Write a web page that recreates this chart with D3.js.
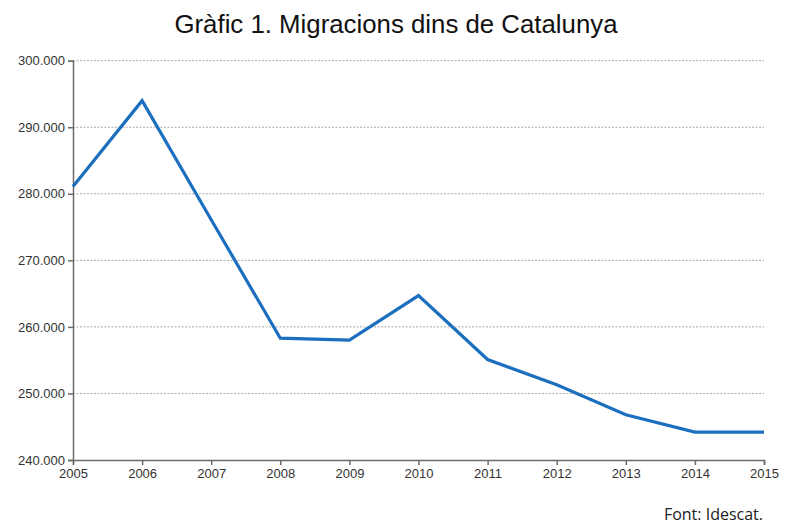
<!DOCTYPE html>
<html>
<head>
<meta charset="utf-8">
<script src="https://cdn.jsdelivr.net/npm/d3@7"></script>
<style>
  body { margin: 0; background: #fff; }
  svg { display: block; }
</style>
</head>
<body>
<script>
// Migracions dins de Catalunya, 2005-2015
var years = [2005, 2006, 2007, 2008, 2009, 2010, 2011, 2012, 2013, 2014, 2015];
var migracions = [281100, 294000, 276100, 258300, 258000, 264700, 255100, 251300, 246800, 244200, 244200];
var yTicks = [240000, 250000, 260000, 270000, 280000, 290000, 300000];

var WIDTH = 792, HEIGHT = 524;
var LINE_COLOR = "#1b6fbe";
var AXIS_COLOR = "#6b6b6b";
var GRID_COLOR = "#a8a8a8";

var locale = d3.formatLocale({ decimal: ",", thousands: ".", grouping: [3], currency: ["", "€"] });
var fmt = locale.format(",.0f");

var svg = d3.select("body").append("svg")
    .attr("width", WIDTH)
    .attr("height", HEIGHT);

var x = d3.scaleLinear().domain([2005, 2015]).range([73, 764]);
var y = d3.scaleLinear().domain([240000, 300000]).range([460, 60.7]);

// title
svg.append("text")
    .attr("x", 396)
    .attr("y", 33)
    .attr("text-anchor", "middle")
    .style("font-family", "Liberation Sans, Arial, sans-serif")
    .style("font-size", "25.8px")
    .style("fill", "#111")
    .text("Gràfic 1. Migracions dins de Catalunya");

// gridlines
svg.append("g")
    .selectAll("line")
    .data(yTicks.filter(function(d) { return d > 240000; }))
    .enter().append("line")
    .attr("x1", x(2005))
    .attr("x2", x(2015))
    .attr("y1", function(d) { return y(d); })
    .attr("y2", function(d) { return y(d); })
    .style("stroke", GRID_COLOR)
    .style("stroke-width", 1)
    .style("stroke-dasharray", "2,1.5");

// y axis
var yAxis = svg.append("g")
    .attr("transform", "translate(" + x(2005) + ",0)")
    .call(d3.axisLeft(y).tickValues(yTicks).tickFormat(fmt).tickSize(5).tickPadding(3));

// x axis
var xAxis = svg.append("g")
    .attr("transform", "translate(0," + y(240000) + ")")
    .call(d3.axisBottom(x).tickValues(years).tickFormat(d3.format("d")).tickSize(5).tickPadding(4));

[yAxis, xAxis].forEach(function(ax) {
  ax.select(".domain").style("stroke", AXIS_COLOR).style("stroke-width", 1.5);
  ax.selectAll(".tick line").style("stroke", AXIS_COLOR).style("stroke-width", 1.5);
  ax.selectAll(".tick text")
      .style("font-family", "Liberation Sans, Arial, sans-serif")
      .style("font-size", "13px")
      .style("fill", "#333");
});

// line
var line = d3.line()
    .x(function(d, i) { return x(years[i]); })
    .y(function(d) { return y(d); });

svg.append("path")
    .datum(migracions)
    .attr("d", line)
    .style("fill", "none")
    .style("stroke", LINE_COLOR)
    .style("stroke-width", 3.2)
    .style("stroke-linejoin", "miter");

// source
svg.append("text")
    .attr("x", 763)
    .attr("y", 520)
    .attr("text-anchor", "end")
    .style("font-family", "Open Sans, sans-serif")
    .style("font-size", "16px")
    .style("fill", "#222")
    .text("Font: Idescat.");
</script>
</body>
</html>
